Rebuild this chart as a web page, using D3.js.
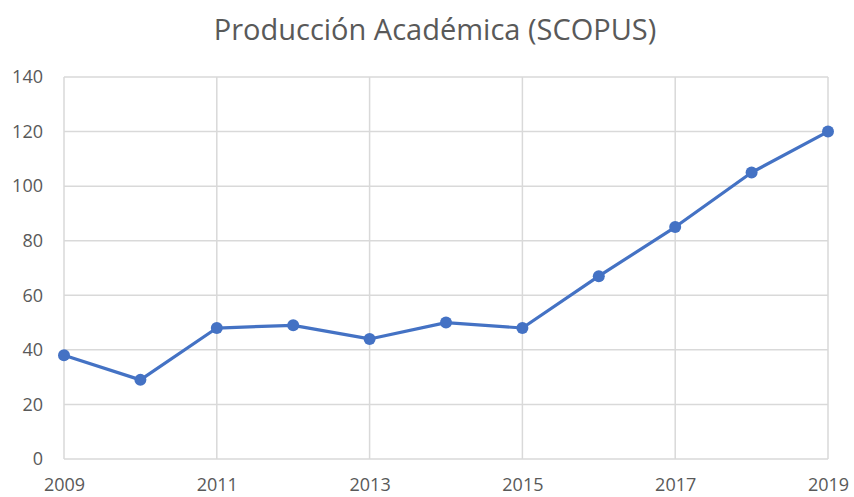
<!DOCTYPE html>
<html>
<head>
<meta charset="utf-8">
<script src="https://cdn.jsdelivr.net/npm/d3@7"></script>
<style>
  body { margin: 0; background: #fff; }
  svg { display: block; }
</style>
</head>
<body>
<div id="chart"></div>
<script>
// data
var years = [2009, 2010, 2011, 2012, 2013, 2014, 2015, 2016, 2017, 2018, 2019];
var publications = [38, 29, 48, 49, 44, 50, 48, 67, 85, 105, 120];
var xTicks = [2009, 2011, 2013, 2015, 2017, 2019];
var yTicks = [0, 20, 40, 60, 80, 100, 120, 140];
var title = "Producción Académica (SCOPUS)";

var width = 854, height = 497;
var margin = {top: 77, right: 26, bottom: 38, left: 64};

var svg = d3.select('#chart').append('svg')
		.attr('width', width)
		.attr('height', height);

var x = d3.scaleLinear()
		.domain([2009, 2019])
		.range([margin.left, width - margin.right]);
var y = d3.scaleLinear()
		.domain([0, 140])
		.range([height - margin.bottom, margin.top]);

var font = "'Open Sans', 'Liberation Sans', sans-serif";

// gridlines
svg.append('g').selectAll('line.h')
	.data(yTicks).enter().append('line')
	.attr('x1', x(2009)).attr('x2', x(2019))
	.attr('y1', function(d) { return y(d); })
	.attr('y2', function(d) { return y(d); })
	.attr('stroke', '#d9d9d9').attr('stroke-width', 1.5);
svg.append('g').selectAll('line.v')
	.data(xTicks).enter().append('line')
	.attr('x1', function(d) { return x(d); })
	.attr('x2', function(d) { return x(d); })
	.attr('y1', y(0)).attr('y2', y(140))
	.attr('stroke', '#d9d9d9').attr('stroke-width', 1.5);

// axes labels (d3 axes, lines hidden)
var yAxis = svg.append('g')
	.attr('transform', 'translate(' + (margin.left - 21) + ',0)')
	.call(d3.axisLeft(y).tickValues(yTicks).tickSize(0).tickPadding(0));
var xAxis = svg.append('g')
	.attr('transform', 'translate(0,' + (y(0) + 32) + ')')
	.call(d3.axisBottom(x).tickValues(xTicks).tickFormat(d3.format('d')).tickSize(0).tickPadding(0));
[yAxis, xAxis].forEach(function(a) {
	a.select('.domain').remove();
	a.selectAll('text')
		.attr('fill', '#595959')
		.style('font-family', font)
		.style('font-size', '18px');
});
xAxis.selectAll('text').attr('dy', null).attr('y', 0);

// line + markers
var line = d3.line()
	.x(function(d, i) { return x(years[i]); })
	.y(function(d) { return y(d); });

svg.append('path')
	.datum(publications)
	.attr('d', line)
	.attr('fill', 'none')
	.attr('stroke', '#4472c4')
	.attr('stroke-width', 3.2)
	.attr('stroke-linejoin', 'round');

svg.append('g').selectAll('circle')
	.data(publications).enter().append('circle')
	.attr('cx', function(d, i) { return x(years[i]); })
	.attr('cy', function(d) { return y(d); })
	.attr('r', 6)
	.attr('fill', '#4472c4');

// title
svg.append('text')
	.attr('x', 435).attr('y', 40)
	.attr('text-anchor', 'middle')
	.attr('fill', '#595959')
	.style('font-family', font)
	.style('font-size', '29px')
	.text(title);
</script>
</body>
</html>
